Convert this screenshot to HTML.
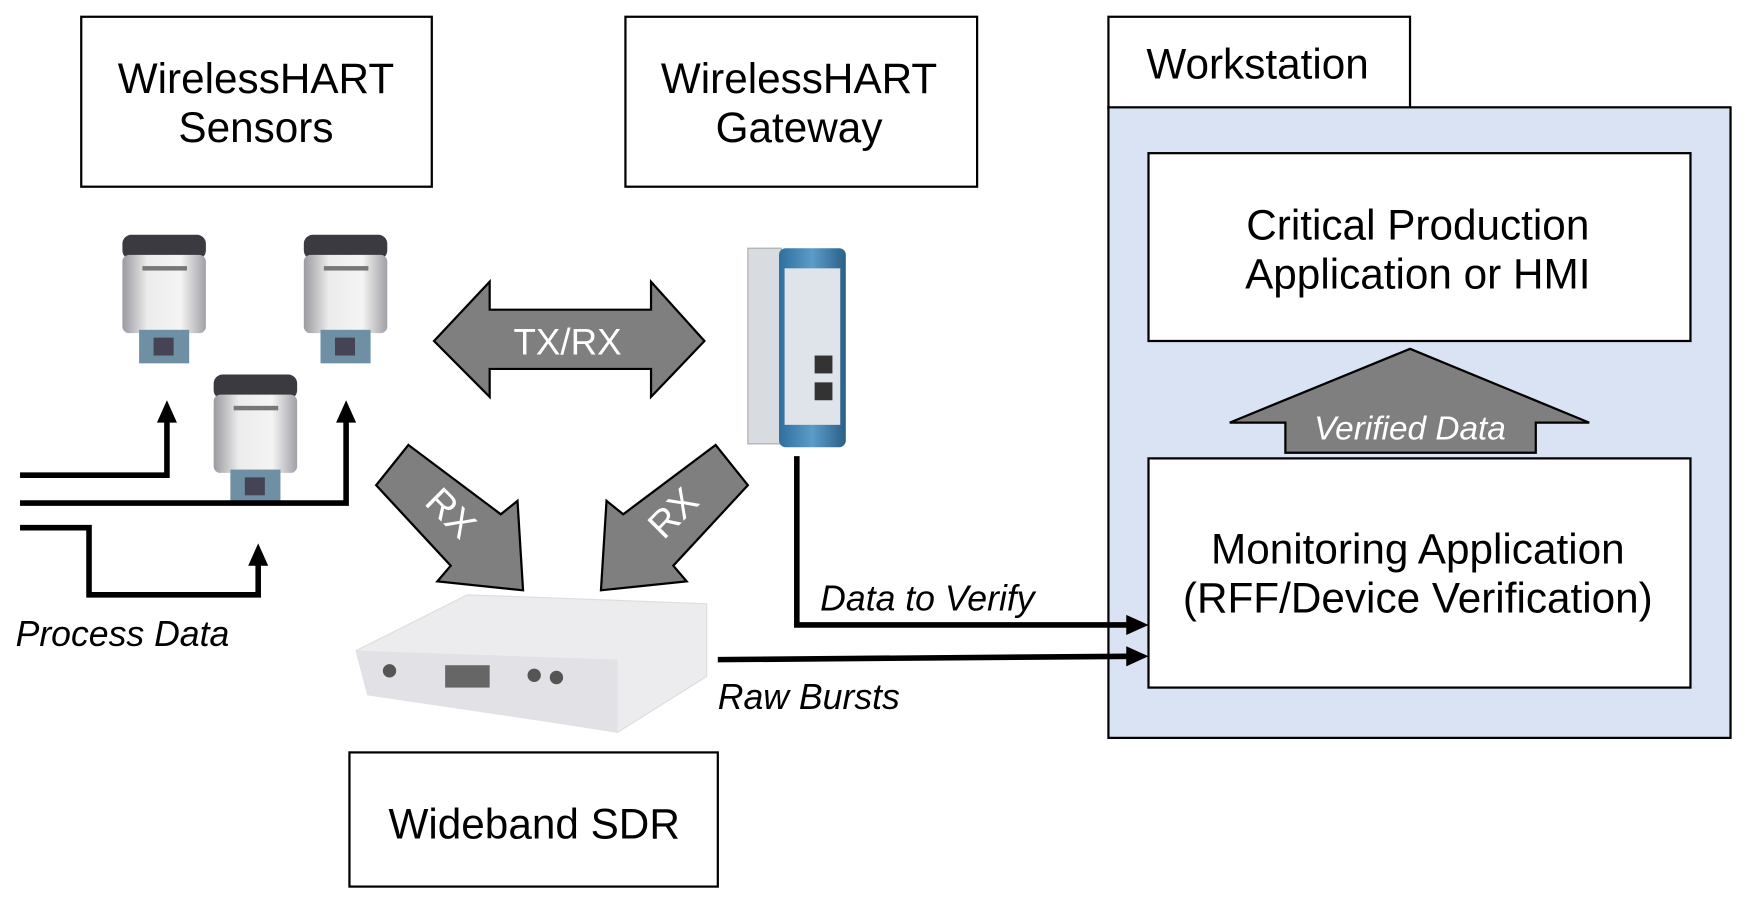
<!DOCTYPE html>
<html><head><meta charset="utf-8"><style>
html,body{margin:0;padding:0;background:#fff;}
svg{display:block;}
text{font-family:"Liberation Sans",sans-serif;}
</style></head><body>
<svg width="1745" height="900" viewBox="0 0 1568 805" preserveAspectRatio="none" xmlns="http://www.w3.org/2000/svg">
<defs>
<linearGradient id="cyl" x1="0" x2="1"><stop offset="0" stop-color="#9a9aa0"/><stop offset="0.3" stop-color="#ececec"/><stop offset="0.7" stop-color="#f4f4f4"/><stop offset="1" stop-color="#a0a0a6"/></linearGradient>
<linearGradient id="blue" x1="0" x2="1"><stop offset="0" stop-color="#2f6f9e"/><stop offset="0.5" stop-color="#5b9cc8"/><stop offset="1" stop-color="#2a5f88"/></linearGradient>
<g id="sensor">
<rect x="0" y="0" width="75" height="22" rx="8" fill="#3a3a40"/>
<rect x="0" y="18" width="75" height="70" rx="6" fill="url(#cyl)"/>
<rect x="18" y="28" width="40" height="4" fill="#777"/>
<rect x="15" y="85" width="45" height="30" fill="#6f8fa4"/>
<rect x="28" y="92" width="18" height="16" fill="#445"/>
</g>
</defs>
<g fill="#fff" stroke="#000" stroke-width="2">
<rect x="73" y="15" width="315" height="152"/>
<rect x="562" y="15" width="316" height="152"/>
<rect x="996" y="15" width="271" height="82"/>
<rect x="996" y="96" width="559" height="564" fill="#dae3f3"/>
<rect x="1032" y="137" width="487" height="168"/>
<rect x="1032" y="410" width="487" height="205"/>
<rect x="314" y="673" width="331" height="120"/>
</g>
<g font-size="38" text-anchor="middle" fill="#000">
<text x="230" y="83">WirelessHART</text><text x="230" y="127">Sensors</text>
<text x="718" y="83">WirelessHART</text><text x="718" y="127">Gateway</text>
<text x="1130" y="70">Workstation</text>
<text x="1274" y="214">Critical Production</text><text x="1274" y="258">Application or HMI</text>
<text x="1274" y="504">Monitoring Application</text><text x="1274" y="548">(RFF/Device Verification)</text>
<text x="480" y="750">Wideband SDR</text>
</g>
<polygon points="1267,312 1428,378 1380,378 1380,405 1155,405 1155,378 1105,378" fill="#7f7f7f" stroke="#000" stroke-width="2"/>
<text x="1267" y="393" font-size="30" font-style="italic" fill="#fff" text-anchor="middle">Verified Data</text>
<polygon points="390,305 440,252 440,277 585,277 585,252 633,305 585,355 585,330 440,330 440,355" fill="#7f7f7f" stroke="#000" stroke-width="2"/>
<text x="510" y="317" font-size="33" fill="#fff" text-anchor="middle">TX/RX</text>
<polygon points="367,398 450,460 465,448 470,528 393,520 405,506 338,434" fill="#7f7f7f" stroke="#000" stroke-width="2"/>
<text x="0" y="0" font-size="34" fill="#fff" text-anchor="middle" transform="translate(397,467) rotate(45)">RX</text>
<g transform="translate(1010,0) scale(-1,1)">
<polygon points="367,398 450,460 465,448 470,528 393,520 405,506 338,434" fill="#7f7f7f" stroke="#000" stroke-width="2"/>
</g>
<text x="0" y="0" font-size="34" fill="#fff" text-anchor="middle" transform="translate(613,467) rotate(-45)">RX</text>
<use href="#sensor" x="110" y="210"/>
<use href="#sensor" x="273" y="210"/>
<use href="#sensor" x="192" y="335"/>
<rect x="672" y="222" width="30" height="175" fill="#d8dbe0" stroke="#aaa"/>
<rect x="700" y="222" width="60" height="178" rx="6" fill="url(#blue)"/>
<rect x="705" y="240" width="50" height="140" fill="#dfe4ea"/>
<rect x="732" y="318" width="16" height="16" fill="#333"/>
<rect x="732" y="342" width="16" height="16" fill="#333"/>
<polygon points="320,582 420,532 635,540 635,605 555,655 330,620" fill="#ececef" stroke="#ddd"/>
<polygon points="320,582 555,590 555,655 330,622" fill="#e2e2e6"/>
<rect x="400" y="595" width="40" height="20" fill="#666"/>
<circle cx="350" cy="600" r="6" fill="#555"/><circle cx="480" cy="604" r="6" fill="#555"/><circle cx="500" cy="606" r="6" fill="#555"/>
<g fill="none" stroke="#000" stroke-width="5">
<polyline points="18,425 150,425 150,375"/>
<polyline points="18,450 311,450 311,375"/>
<polyline points="18,472 80,472 80,532 232,532 232,503"/>
<polyline points="716,408 716,559 1015,559"/>
<line x1="645" y1="590" x2="1015" y2="587"/>
</g>
<g fill="#000">
<polygon points="150,358 141,378 159,378"/>
<polygon points="311,358 302,378 320,378"/>
<polygon points="232,486 223,506 241,506"/>
<polygon points="1032,559 1012,550 1012,568"/>
<polygon points="1032,587 1012,578 1012,596"/>
</g>
<g font-size="32" font-style="italic" fill="#000">
<text x="14" y="578">Process Data</text>
<text x="737" y="546">Data to Verify</text>
<text x="645" y="634">Raw Bursts</text>
</g>
</svg>
</body></html>
